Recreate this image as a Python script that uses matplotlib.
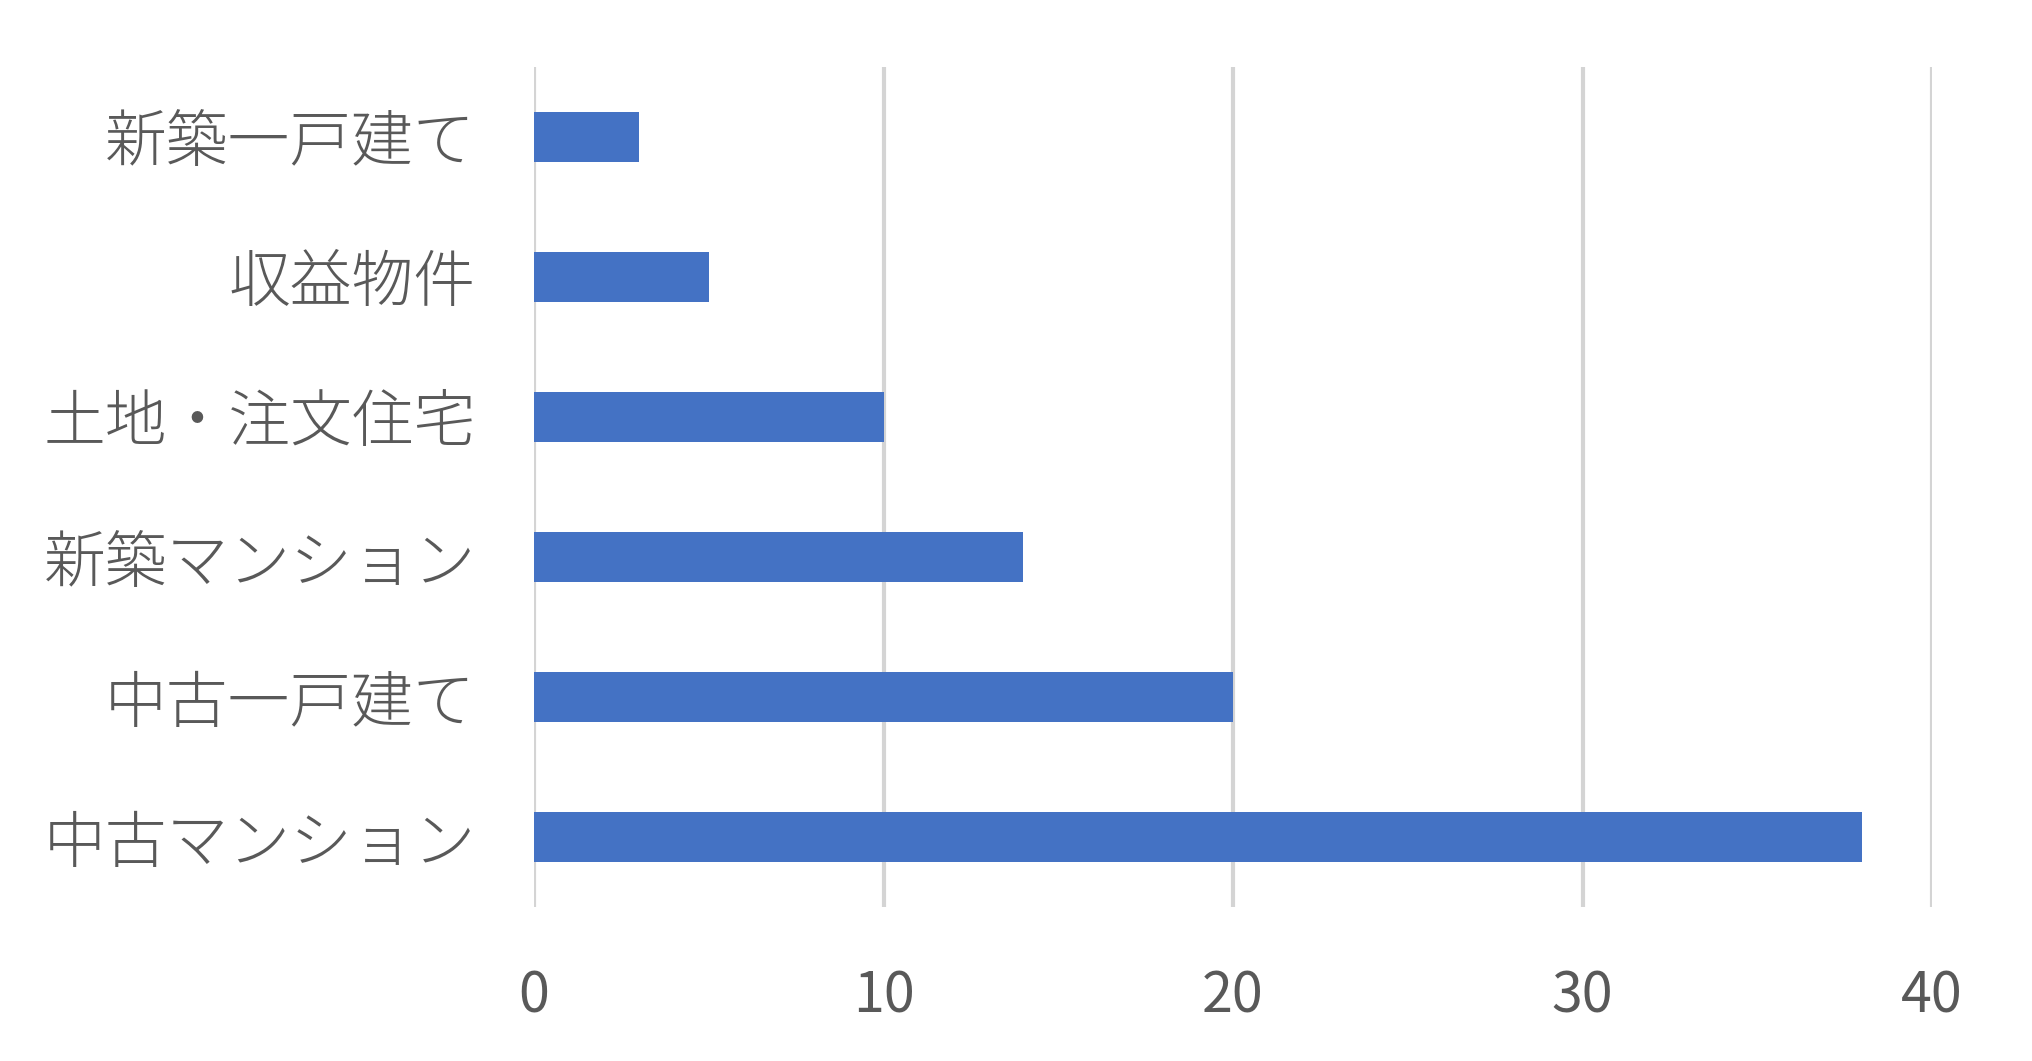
import matplotlib
matplotlib.use("Agg")
import matplotlib.pyplot as plt

categories = ["中古マンション", "中古一戸建て", "新築マンション", "土地・注文住宅", "収益物件", "新築一戸建て"]
values = [38, 20, 14, 10, 5, 3]
xticks = [0, 10, 20, 30, 40]

plt.rcParams['font.family'] = ['Noto Sans CJK JP', 'DejaVu Sans']

fig = plt.figure(figsize=(20.32, 10.61), dpi=100)
ax = fig.add_axes([0.2628, 0.1451, 0.6880, 0.7918])

ax.barh(range(len(categories)), values, height=0.36, color="#4472C4", zorder=3)
ax.set_yticks(range(len(categories)))
ax.set_yticklabels(categories, fontsize=44.5, fontweight="light")
ax.set_ylim(-0.5, len(categories) - 0.5)
ax.set_xlim(0, 40)
ax.set_xticks(xticks)
ax.set_xticklabels([str(t) for t in xticks], fontsize=40)

ax.grid(axis="x", color="#D4D4D4", linewidth=3, zorder=0)
for s in ax.spines.values():
    s.set_visible(False)
ax.tick_params(axis="both", length=0, colors="#595959")
ax.tick_params(axis="y", pad=42)
ax.tick_params(axis="x", pad=44)

fig.savefig("out.png", dpi=100, facecolor="white")
